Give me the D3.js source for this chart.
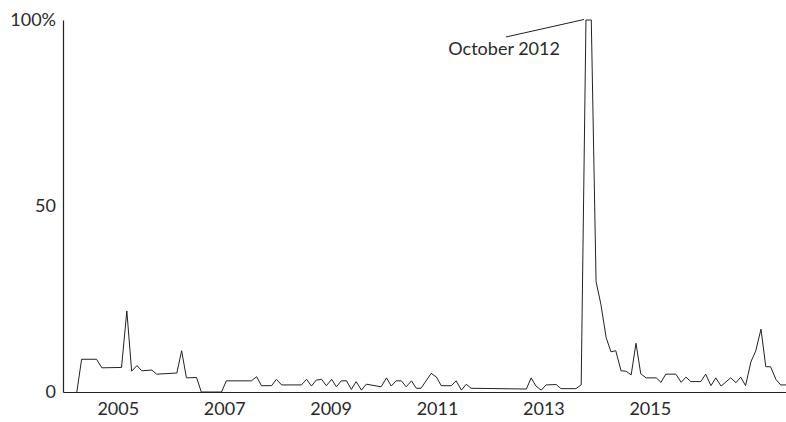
<!DOCTYPE html>
<html>
<head>
<meta charset="utf-8">
<script src="https://cdn.jsdelivr.net/npm/d3@7"></script>
<style>
  body { margin: 0; background: #fff; }
  text { font-family: Lato, "Open Sans", sans-serif; fill: #2a2a2a; }
</style>
</head>
<body>
<div id="chart"></div>
<script>
// Periods (decimal years), only the vertices of the line
const periods = [
    2004.23, 2004.32, 2004.60, 2004.70, 2005.07, 2005.17, 2005.26, 2005.36, 2005.45, 2005.64,
    2005.73, 2006.11, 2006.20, 2006.29, 2006.48, 2006.57, 2006.95, 2007.04, 2007.51, 2007.61,
    2007.70, 2007.89, 2007.98, 2008.08, 2008.45, 2008.55, 2008.64, 2008.73, 2008.83, 2008.92,
    2009.02, 2009.11, 2009.20, 2009.30, 2009.39, 2009.48, 2009.58, 2009.67, 2009.95, 2010.05,
    2010.14, 2010.23, 2010.33, 2010.42, 2010.52, 2010.61, 2010.70, 2010.89, 2010.99, 2011.08,
    2011.27, 2011.36, 2011.46, 2011.55, 2011.64, 2012.68, 2012.77, 2012.86, 2012.96, 2013.05,
    2013.24, 2013.33, 2013.61, 2013.71, 2013.80, 2013.90, 2013.99, 2014.08, 2014.18, 2014.27,
    2014.36, 2014.46, 2014.55, 2014.65, 2014.74, 2014.83, 2014.93, 2015.12, 2015.21, 2015.30,
    2015.49, 2015.59, 2015.68, 2015.77, 2015.96, 2016.05, 2016.15, 2016.24, 2016.34, 2016.52,
    2016.62, 2016.71, 2016.80, 2016.90, 2016.99, 2017.09, 2017.18, 2017.27, 2017.37, 2017.46,
    2017.56
];

// Share (%) at each period
const shares = [
    0, 8.8, 8.8, 6.5, 6.6, 21.8, 5.6, 7.1, 5.7, 5.9,
    4.8, 5.1, 11.1, 3.8, 3.9, 0, 0, 3.0, 3.0, 4.1,
    1.7, 1.7, 3.4, 1.9, 1.9, 3.4, 1.6, 3.2, 3.4, 1.7,
    3.4, 1.4, 3.0, 3.0, 0.7, 2.8, 0.5, 2.1, 1.4, 3.8,
    1.6, 3.0, 3.0, 1.4, 3.0, 1.0, 1.0, 5.0, 4.0, 1.7,
    1.7, 3.0, 0.5, 2.1, 1.0, 0.8, 3.8, 1.6, 0.5, 1.9,
    2.0, 0.9, 0.9, 1.9, 100, 100, 29.7, 23.6, 14.6, 10.8,
    11.1, 5.7, 5.6, 4.6, 13.1, 4.9, 3.8, 3.8, 2.6, 4.8,
    4.8, 2.6, 4.0, 2.8, 2.8, 4.8, 1.7, 3.8, 1.6, 3.8,
    2.5, 4.0, 1.7, 8.1, 11.0, 16.9, 6.8, 6.8, 3.4, 1.9,
    1.9
];

const xTickYears = [2005, 2007, 2009, 2011, 2013, 2015];
const yTickValues = [0, 50, 100];
const peakLabel = "October 2012";

const data = periods.map((p, i) => ({ period: p, share: shares[i] }));

const margin = { top: 20, right: 0, bottom: 30, left: 63 };
const width = 786 - margin.left - margin.right;
const height = 422 - margin.top - margin.bottom;

const svg = d3.select("#chart")
    .append("svg")
    .attr("width", width + margin.left + margin.right)
    .attr("height", height + margin.top + margin.bottom)
    .append("g")
    .attr("transform", `translate(${margin.left},${margin.top})`);

const x = d3.scaleLinear()
    .domain([2003.97, 2017.56])
    .range([0, width]);

const y = d3.scaleLinear()
    .domain([0, 100])
    .range([height, 0]);

// axes: no tick marks, just the lines and labels
const xAxis = svg.append("g")
    .attr("transform", `translate(0,${height})`)
    .call(d3.axisBottom(x).tickValues(xTickYears).tickFormat(d3.format("d")).tickSize(0).tickPadding(10));

const yAxis = svg.append("g")
    .call(d3.axisLeft(y).tickValues(yTickValues).tickFormat(d => d === 100 ? "100%" : d).tickSize(0).tickPadding(7));

[xAxis, yAxis].forEach(a => {
    a.select(".domain").attr("stroke", "#222").attr("stroke-width", 1.2);
    a.selectAll("text").style("font-size", "18px").attr("fill", "#2a2a2a");
});

svg.append("path")
    .datum(data)
    .attr("fill", "none")
    .attr("stroke", "#222")
    .attr("stroke-width", 1)
    .attr("stroke-linejoin", "miter")
    .attr("d", d3.line()
        .x(d => x(d.period))
        .y(d => y(d.share)));

// annotation for the peak
const peak = data.find(d => d.share === 100);
svg.append("line")
    .attr("x1", x(peak.period) - 2)
    .attr("y1", y(100) - 0.5)
    .attr("x2", x(peak.period) - 80)
    .attr("y2", y(100) + 17)
    .attr("stroke", "#222")
    .attr("stroke-width", 1);

svg.append("text")
    .attr("x", x(peak.period) - 26)
    .attr("y", y(100) + 35)
    .attr("text-anchor", "end")
    .style("font-size", "18px")
    .text(peakLabel);
</script>
</body>
</html>
